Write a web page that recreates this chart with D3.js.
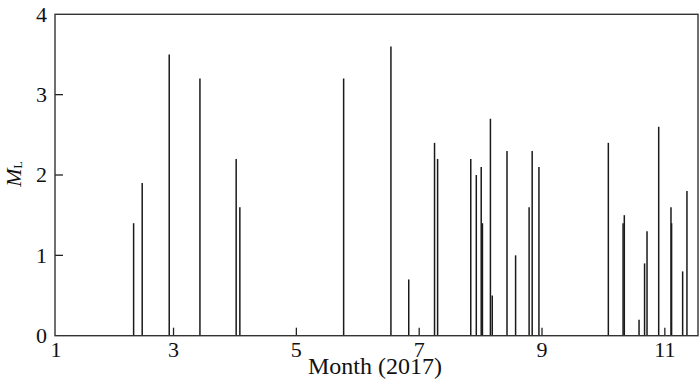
<!DOCTYPE html>
<html>
<head>
<meta charset="utf-8">
<script src="https://cdn.jsdelivr.net/npm/d3@7"></script>
<style>
  body { margin: 0; background: #fff; }
  text { font-family: "Liberation Serif", "Times New Roman", serif; fill: #111; }
</style>
</head>
<body>
<svg></svg>
<script>
// event dates (decimal month of 2017) and local magnitude ML
const months = [2.35, 2.49, 2.93, 3.43, 4.02, 4.08, 5.77, 6.54, 6.83, 7.25, 7.30,
  7.84, 7.93, 8.01, 8.03, 8.16, 8.19, 8.43, 8.57, 8.79, 8.84, 8.95,
  10.08, 10.32, 10.34, 10.58, 10.67, 10.71, 10.90, 11.10, 11.11, 11.29, 11.36];
const magnitudes = [1.4, 1.9, 3.5, 3.2, 2.2, 1.6, 3.2, 3.6, 0.7, 2.4, 2.2,
  2.2, 2.0, 2.1, 1.4, 2.7, 0.5, 2.3, 1.0, 1.6, 2.3, 2.1,
  2.4, 1.4, 1.5, 0.2, 0.9, 1.3, 2.6, 1.6, 1.4, 0.8, 1.8];
const xTicks = [3, 5, 7, 9, 11];
const yTicks = [0, 1, 2, 3, 4];

const width = 700, height = 390;
const mLeft = 55, mRight = 698, mTop = 14.3, mBottom = 335.7;

const svg = d3.select('svg')
    .attr('width', width)
    .attr('height', height);

const x = d3.scaleLinear().domain([1.07, 11.54]).range([mLeft, mRight]);
const y = d3.scaleLinear().domain([0, 4]).range([mBottom, mTop]);

// bars (thin vertical lines)
svg.append('g')
    .selectAll('line')
    .data(months)
    .join('line')
    .attr('x1', d => x(d))
    .attr('x2', d => x(d))
    .attr('y1', y(0))
    .attr('y2', (d, i) => y(magnitudes[i]))
    .attr('stroke', '#1a1a1a')
    .attr('stroke-width', 1.5);

// inward ticks
svg.append('g')
    .selectAll('line')
    .data(xTicks)
    .join('line')
    .attr('x1', d => x(d)).attr('x2', d => x(d))
    .attr('y1', mBottom).attr('y2', mBottom - 8)
    .attr('stroke', '#222').attr('stroke-width', 1.3);

svg.append('g')
    .selectAll('line')
    .data(yTicks.slice(1, 4))
    .join('line')
    .attr('x1', mLeft).attr('x2', mLeft + 8)
    .attr('y1', d => y(d)).attr('y2', d => y(d))
    .attr('stroke', '#222').attr('stroke-width', 1.3);

// frame
svg.append('rect')
    .attr('x', mLeft).attr('y', mTop)
    .attr('width', mRight - mLeft).attr('height', mBottom - mTop)
    .attr('fill', 'none')
    .attr('stroke', '#333')
    .attr('stroke-width', 1.4);

// tick labels
svg.append('g')
    .selectAll('text')
    .data(xTicks)
    .join('text')
    .attr('x', d => x(d))
    .attr('y', 357)
    .attr('text-anchor', 'middle')
    .attr('font-size', 22)
    .text(d => d);

svg.append('text')
    .attr('x', mLeft + 1)
    .attr('y', 357)
    .attr('text-anchor', 'middle')
    .attr('font-size', 22)
    .text('1');

svg.append('g')
    .selectAll('text')
    .data(yTicks)
    .join('text')
    .attr('x', 47)
    .attr('y', d => y(d))
    .attr('dy', '0.34em')
    .attr('text-anchor', 'end')
    .attr('font-size', 22)
    .text(d => d);

// axis titles
svg.append('text')
    .attr('x', 375)
    .attr('y', 374)
    .attr('text-anchor', 'middle')
    .attr('font-size', 24)
    .text('Month (2017)');

const yTitle = svg.append('text')
    .attr('transform', 'translate(20.5, 174) rotate(-90)')
    .attr('text-anchor', 'middle')
    .attr('font-size', 22);
yTitle.append('tspan').attr('font-style', 'italic').text('M');
yTitle.append('tspan').attr('font-size', 12).attr('dy', 1).text('L');
</script>
</body>
</html>
